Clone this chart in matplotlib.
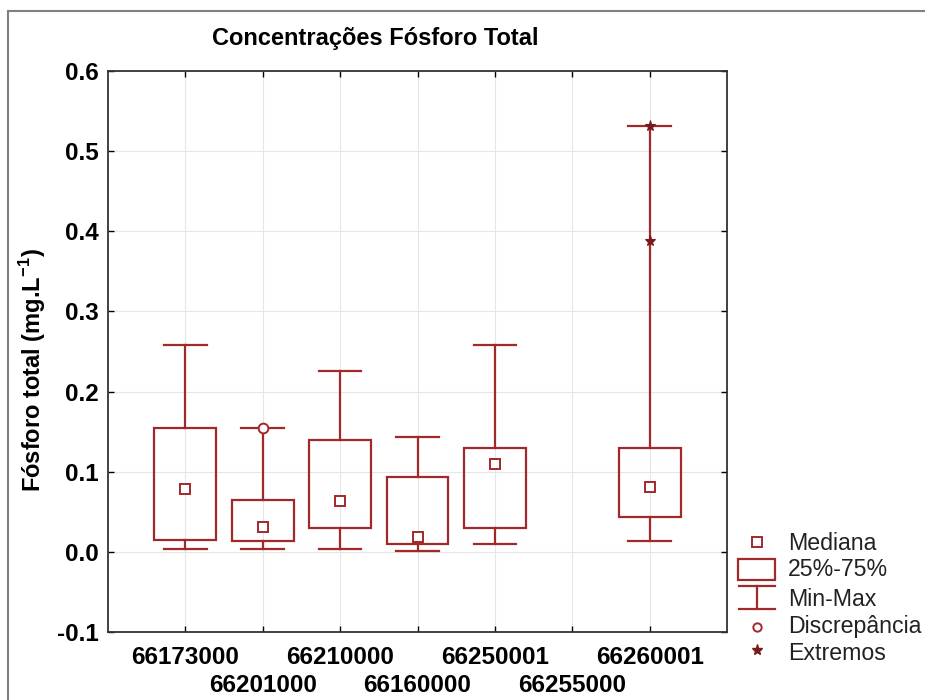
import matplotlib
matplotlib.use("Agg")
import matplotlib.pyplot as plt
from matplotlib.patches import Rectangle
from matplotlib.lines import Line2D

plt.rcParams['font.family'] = ['Liberation Sans', 'DejaVu Sans']
plt.rcParams['mathtext.fontset'] = 'custom'
plt.rcParams['mathtext.rm'] = 'Liberation Sans'
plt.rcParams['mathtext.bf'] = 'Liberation Sans:bold'

stations = ["66173000", "66201000", "66210000", "66160000", "66250001", "66255000", "66260001"]
mins    = [0.004, 0.004, 0.004, 0.001, 0.010, None, 0.014]
q1s     = [0.015, 0.014, 0.030, 0.010, 0.030, None, 0.044]
medians = [0.079, 0.031, 0.064, 0.019, 0.110, None, 0.081]
q3s     = [0.155, 0.065, 0.140, 0.094, 0.129, None, 0.130]
maxs    = [0.2575, 0.154, 0.226, 0.143, 0.2575, None, 0.531]
outliers = {1: [0.154]}
extremes = {6: [0.531, 0.3875]}

yticks = [-0.1, 0.0, 0.1, 0.2, 0.3, 0.4, 0.5, 0.6]

C = '#a2282a'
W, H = 925, 700
fig = plt.figure(figsize=(W / 100, H / 100), dpi=100)
AX_L, AX_R, AX_T, AX_B = 108, 727, 71, 632
ax = fig.add_axes([AX_L / W, 1 - AX_B / H, (AX_R - AX_L) / W, (AX_B - AX_T) / H])

bw = 0.8
cw = 0.55
for i in range(len(stations)):
    if medians[i] is None:
        continue
    x = i + 1
    ax.add_patch(Rectangle((x - bw / 2, q1s[i]), bw, q3s[i] - q1s[i], fill=False,
                           edgecolor=C, lw=1.6, zorder=3))
    ax.plot([x, x], [q3s[i], maxs[i]], color=C, lw=1.6, zorder=3)
    ax.plot([x, x], [mins[i], q1s[i]], color=C, lw=1.6, zorder=3)
    ax.plot([x - cw / 2, x + cw / 2], [maxs[i], maxs[i]], color=C, lw=1.6, zorder=3)
    ax.plot([x - cw / 2, x + cw / 2], [mins[i], mins[i]], color=C, lw=1.6, zorder=3)
    ax.plot([x], [medians[i]], marker='s', ms=7, mfc='white', mec=C, mew=1.4, zorder=4)
    for v in outliers.get(i, []):
        ax.plot([x], [v], marker='o', ms=7, mfc='white', mec=C, mew=1.4, zorder=4)
    for v in extremes.get(i, []):
        ax.plot([x], [v], marker='*', ms=8, color='#7a1a1a', mew=0.8, zorder=4)

ax.set_xlim(0, len(stations) + 1)
ax.set_ylim(-0.1, 0.6)
ax.set_yticks(yticks)
ax.set_yticklabels([f"{v:.1f}" for v in yticks], fontsize=17.5, fontweight='bold')
ax.set_xticks(range(1, len(stations) + 1))
ax.set_xticklabels([])
for i, s in enumerate(stations):
    ax.annotate(s, xy=(i + 1, 0), xycoords=('data', 'axes fraction'),
                xytext=(0, -25 if i % 2 == 0 else -53), textcoords='offset pixels',
                ha='center', va='center', fontsize=17.5, fontweight='bold')
ax.tick_params(direction='in', top=True, right=True, length=4, width=1, pad=7)
ax.grid(True, color='#e6e6e6', lw=0.8)
ax.set_axisbelow(True)
for sp in ax.spines.values():
    sp.set_linewidth(1.3)
    sp.set_color('#333333')

ax.set_ylabel("Fósforo total (mg.L$^{\\mathbf{-1}}$)", fontsize=17, fontweight='bold')
ax.yaxis.set_label_coords((33 - AX_L) / (AX_R - AX_L), (AX_B - 370) / (AX_B - AX_T))
ax.yaxis.label.set_va('center')
fig.text(375 / W, 1 - 38 / H, "Concentrações Fósforo Total", ha='center', va='center',
         fontsize=17, fontweight='bold')

# figure frame (top and left)
fig.add_artist(Line2D([8 / W, 8 / W], [0, 1 - 11 / H], transform=fig.transFigure, color='#808080', lw=1.5))
fig.add_artist(Line2D([8 / W, 1], [1 - 11 / H, 1 - 11 / H], transform=fig.transFigure, color='#808080', lw=1.5))

# legend drawn in figure pixel coords
def fx(p):
    return p / W

def fy(p):
    return 1 - p / H

tr = fig.transFigure
fig.add_artist(Line2D([fx(757)], [fy(542)], transform=tr, marker='s', ms=7, mfc='white', mec=C, mew=1.4, ls='none'))
fig.add_artist(Rectangle((fx(738), fy(580)), fx(775) - fx(738), fy(559) - fy(580), transform=tr,
                         fill=False, edgecolor=C, lw=1.6))
fig.add_artist(Line2D([fx(739), fx(775)], [fy(586), fy(586)], transform=tr, color=C, lw=1.6))
fig.add_artist(Line2D([fx(757), fx(757)], [fy(586), fy(609)], transform=tr, color=C, lw=1.6))
fig.add_artist(Line2D([fx(739), fx(775)], [fy(609), fy(609)], transform=tr, color=C, lw=1.6))
fig.add_artist(Line2D([fx(757)], [fy(627)], transform=tr, marker='o', ms=6, mfc='white', mec=C, mew=1.4, ls='none'))
fig.add_artist(Line2D([fx(757)], [fy(650)], transform=tr, marker='*', ms=8, color='#7a1a1a', ls='none'))
labels = ["Mediana", "25%-75%", "Min-Max", "Discrepância", "Extremos"]
ys = [543, 570, 599, 626, 653]
for lab, yy in zip(labels, ys):
    fig.text(fx(788), fy(yy), lab, ha='left', va='center', fontsize=16.7, color='#222222')

fig.savefig("out.png", dpi=100)
